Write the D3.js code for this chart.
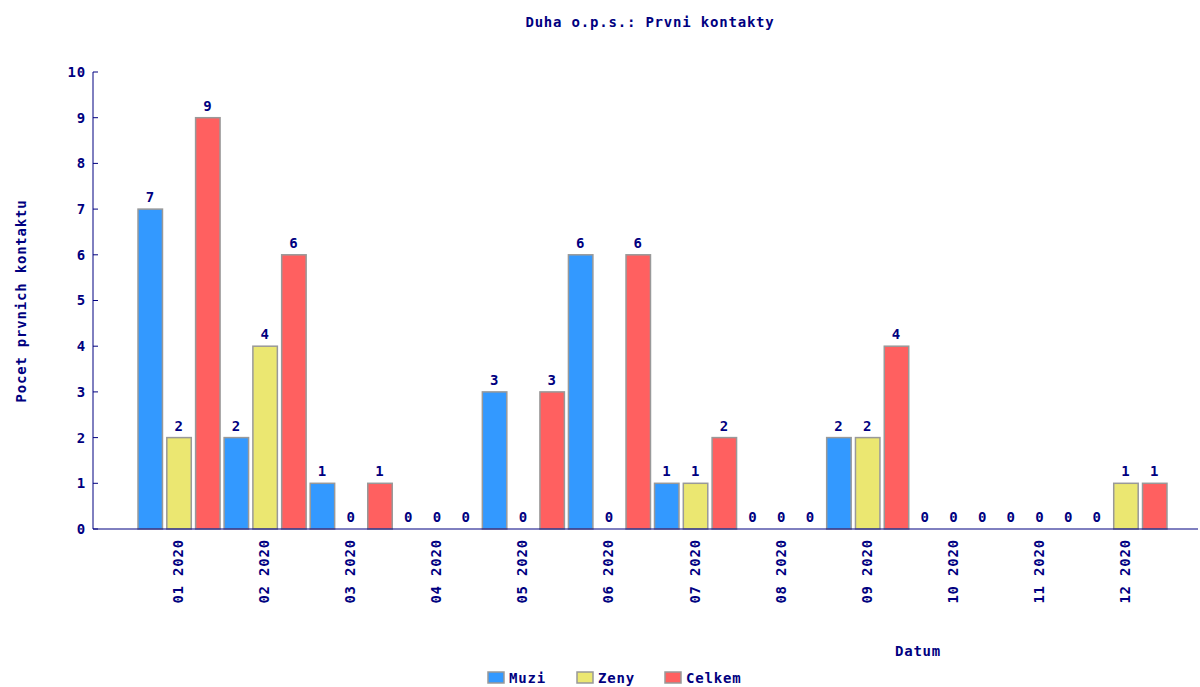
<!DOCTYPE html>
<html lang="en">
<head>
  <meta charset="UTF-8">
  <title>Duha o.p.s.: Prvni kontakty</title>
  <script src="https://d3js.org/d3.v7.min.js"></script>
  <style>
    body { margin: 0; background: #fff; }
    text { font-family: 'DejaVu Sans Mono', monospace; font-weight: bold; fill: #000080; letter-spacing: 0.8px; }
  </style>
</head>
<body>
  <script>
    const months = ["01 2020", "02 2020", "03 2020", "04 2020", "05 2020", "06 2020",
                    "07 2020", "08 2020", "09 2020", "10 2020", "11 2020", "12 2020"];
    const seriesNames = ["Muzi", "Zeny", "Celkem"];
    const muzi   = [7, 2, 1, 0, 3, 6, 1, 0, 2, 0, 0, 0];
    const zeny   = [2, 4, 0, 0, 0, 0, 1, 0, 2, 0, 0, 1];
    const celkem = [9, 6, 1, 0, 3, 6, 2, 0, 4, 0, 0, 1];
    const yTicks = [0, 1, 2, 3, 4, 5, 6, 7, 8, 9, 10];

    const width = 1200, height = 687;
    const colors = ["#3399ff", "#ebe771", "#ff6060"];
    const values = [muzi, zeny, celkem];
    const fs = 14;

    const svg = d3.select("body").append("svg")
        .attr("width", width)
        .attr("height", height);

    const axisLeft = 93, axisRight = 1198, plotTop = 72, plotBottom = 529;

    const x = d3.scaleBand().domain(months).range([136, 1169]).padding(0);
    const xs = d3.scaleBand().domain(seriesNames).range([0, x.bandwidth()]).paddingInner(0.15).paddingOuter(0.07);
    const y = d3.scaleLinear().domain([0, 10]).range([plotBottom, plotTop]);

    // title
    svg.append("text")
        .attr("x", 650).attr("y", 27)
        .attr("text-anchor", "middle")
        .attr("font-size", fs)
        .text("Duha o.p.s.: Prvni kontakty");

    // bars
    const groups = svg.append("g").selectAll("g")
      .data(months)
      .join("g")
        .attr("transform", d => `translate(${x(d)},0)`);

    const cells = (m, i) => seriesNames.map((s, k) => ({ s, k, v: values[k][i] }));

    groups.selectAll("rect")
      .data((m, i) => cells(m, i).filter(d => d.v > 0))
      .join("rect")
        .attr("x", d => xs(d.s))
        .attr("y", d => y(d.v))
        .attr("width", xs.bandwidth())
        .attr("height", d => y(0) - y(d.v))
        .attr("fill", d => colors[d.k])
        .attr("stroke", "#999")
        .attr("stroke-width", 1.5);

    groups.selectAll("text")
      .data(cells)
      .join("text")
        .attr("x", d => xs(d.s) + xs.bandwidth() / 2)
        .attr("y", d => y(d.v) - 7)
        .attr("text-anchor", "middle")
        .attr("font-size", fs)
        .text(d => d.v);

    // y axis
    const yAxis = svg.append("g").attr("transform", `translate(${axisLeft},0)`);
    yAxis.append("line").attr("y1", plotTop).attr("y2", plotBottom).attr("stroke", "#000080");
    yAxis.selectAll(".tick")
      .data(yTicks)
      .join("line")
        .attr("class", "tick")
        .attr("x1", 0).attr("x2", 5)
        .attr("y1", d => y(d)).attr("y2", d => y(d))
        .attr("stroke", "#000080");
    yAxis.selectAll("text")
      .data(yTicks)
      .join("text")
        .attr("x", -7)
        .attr("y", d => y(d))
        .attr("dy", "0.35em")
        .attr("text-anchor", "end")
        .attr("font-size", fs)
        .text(d => d);

    svg.append("text")
        .attr("transform", "translate(26,301) rotate(-90)")
        .attr("text-anchor", "middle")
        .attr("font-size", fs)
        .text("Pocet prvnich kontaktu");

    // x axis
    svg.append("line")
        .attr("x1", axisLeft).attr("x2", axisRight)
        .attr("y1", plotBottom).attr("y2", plotBottom)
        .attr("stroke", "#000080");
    svg.append("g").selectAll("text")
      .data(months)
      .join("text")
        .attr("transform", d => `translate(${x(d) + x.bandwidth() / 2 + 4},539) rotate(-90)`)
        .attr("text-anchor", "end")
        .attr("font-size", fs)
        .text(d => d);

    svg.append("text")
        .attr("x", 918).attr("y", 656)
        .attr("text-anchor", "middle")
        .attr("font-size", fs)
        .text("Datum");

    // legend
    const legendX = [488, 577, 665];
    const legend = svg.append("g").selectAll("g")
      .data(seriesNames)
      .join("g")
        .attr("transform", (d, i) => `translate(${legendX[i]},672)`);
    legend.append("rect")
        .attr("width", 16).attr("height", 11)
        .attr("fill", (d, i) => colors[i])
        .attr("stroke", "#999")
        .attr("stroke-width", 1.5);
    legend.append("text")
        .attr("x", 21).attr("y", 11)
        .attr("font-size", fs)
        .text(d => d);
  </script>
</body>
</html>
